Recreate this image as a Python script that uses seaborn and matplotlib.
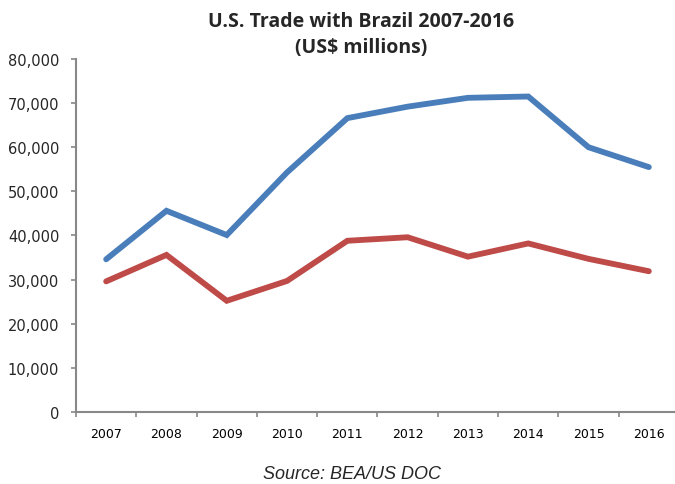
import matplotlib
matplotlib.use("Agg")
import matplotlib.pyplot as plt
from matplotlib.ticker import FixedLocator, FuncFormatter
import seaborn as sns
import pandas as pd
import numpy as np

years = [2007, 2008, 2009, 2010, 2011, 2012, 2013, 2014, 2015, 2016]
series_a = [34600, 45600, 40100, 54300, 66600, 69200, 71200, 71500, 60000, 55500]
series_b = [29600, 35600, 25200, 29700, 38800, 39600, 35200, 38200, 34700, 31900]
series_names = ["Series A", "Series B"]
colors = ["#4A7EBB", "#BE4B48"]

sns.set_style("white")
plt.rcParams["font.family"] = ["DejaVu Sans"]

df = pd.DataFrame({
    "pos": list(range(len(years))) * 2,
    "value": series_a + series_b,
    "series": [series_names[0]] * len(years) + [series_names[1]] * len(years),
})

fig = plt.figure(figsize=(6.75, 4.85), dpi=100)
ax = fig.add_axes([0.1126, 0.1485, 0.8933, 0.7278])
sns.lineplot(data=df, x="pos", y="value", hue="series", palette=colors,
             linewidth=4.2, ax=ax, legend=False, solid_capstyle="round",
             solid_joinstyle="miter")

ax.set_xlim(-0.5, len(years) - 0.5)
ax.set_ylim(0, 80000)
ax.set_xlabel("")
ax.set_ylabel("")
ax.set_yticks(np.arange(0, 80001, 10000))
ax.yaxis.set_major_formatter(FuncFormatter(lambda v, p: f"{int(v):,}"))
ax.set_xticks(range(len(years)))
ax.set_xticklabels([str(y) for y in years])
ax.xaxis.set_minor_locator(FixedLocator(np.arange(-0.5, len(years), 1.0)))
ax.tick_params(axis="x", which="major", length=0, pad=11, labelsize=9, colors="#000000")
ax.tick_params(axis="x", which="minor", length=3.6, width=1.2, color="#888888", direction="out", bottom=True)
ax.tick_params(axis="y", which="major", length=3.6, width=1.2, color="#888888", direction="out", left=True, labelsize=10.5, pad=8.5)

for s in ["top", "right"]:
    ax.spines[s].set_visible(False)
for s in ["left", "bottom"]:
    ax.spines[s].set_color("#888888")
    ax.spines[s].set_linewidth(1.5)

fig.text(0.535, 0.9443, "U.S. Trade with Brazil 2007-2016", ha="center", va="baseline",
         fontsize=14, fontweight="bold", family=["Open Sans", "DejaVu Sans"])
fig.text(0.535, 0.8907, "(US$ millions)", ha="center", va="baseline",
         fontsize=14, fontweight="bold", family=["Open Sans", "DejaVu Sans"])
fig.text(0.5215, 0.013, "Source: BEA/US DOC", ha="center", va="baseline",
         fontsize=13, style="italic", family=["Liberation Sans", "DejaVu Sans"])

fig.savefig("out.png", dpi=100)
